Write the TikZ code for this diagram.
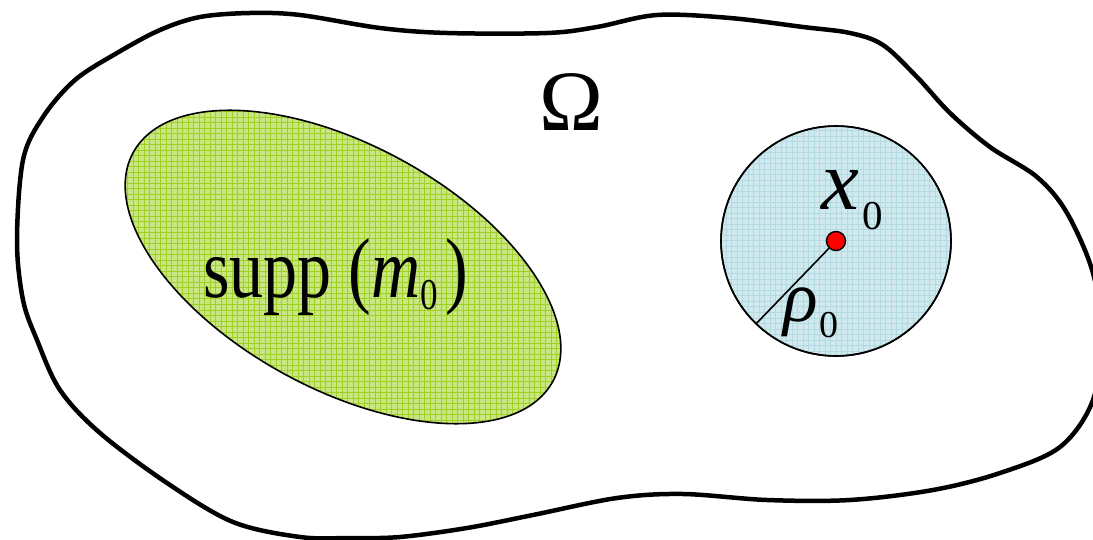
\documentclass[tikz,border=0pt]{standalone}
\usepackage{fontspec}
\setmainfont{Liberation Serif}
\definecolor{suppbase}{HTML}{C8E682}
\definecolor{suppline}{HTML}{A0D024}
\definecolor{ballbase}{HTML}{CFE9EE}
\definecolor{ballline}{HTML}{B2DAE0}
\definecolor{dotred}{HTML}{FF0000}
\tikzset{
  blob/.style={draw=black, line width=4.5pt, line join=round},
  region/.style={draw=black, line width=1.6pt},
  gridln/.style={line width=1pt},
  lbl/.style={inner sep=0pt, outer sep=0pt},
  radius line/.style={draw=black, line width=1.6pt},
}
\begin{document}
\begin{tikzpicture}[x=1pt,y=-1pt]
\useasboundingbox (0,0) rectangle (1093,540);
\begin{scope}
\clip (0,0) rectangle (1093,540);
% outer domain Omega
\path[blob] plot[smooth cycle, tension=0.55] coordinates {
 (75,80) (117,53) (160,30) (200,17) (250,13) (300,15) (380,28) (447,33)
 (547,33) (597,27) (657,15) (730,18) (803,27) (850,33) (883,45) (917,77)
 (950,113) (990,147) (1037,177) (1067,213) (1093,273) (1101,335) (1093,400)
 (1060,447) (1000,473) (933,490) (850,500) (767,500) (683,494) (617,498)
 (533,515) (467,528) (400,537) (350,538) (300,537) (233,522) (167,483)
 (100,433) (60,390) (37,340) (23,300) (17,241) (23,160) (43,117)};
\end{scope}
% support ellipse with grid texture
\begin{scope}
\clip[rotate around={-28.6:(343,267)}] (343,267) ellipse [x radius=239, y radius=122];
\fill[suppbase] (100,90) rectangle (600,450);
\foreach \i in {0,...,92} {
  \draw[suppline, gridln] (100+\i*5.5,90) -- (100+\i*5.5,450);
}
\foreach \j in {0,...,66} {
  \draw[suppline, gridln] (100,90+\j*5.5) -- (600,90+\j*5.5);
}
\end{scope}
\draw[region, rotate around={-28.6:(343,267)}] (343,267) ellipse [x radius=239, y radius=122];
% ball
\node[circle, region, minimum size=230pt, inner sep=0pt, fill=ballbase,
  path picture={
    \foreach \i in {-22,...,22} {
      \draw[ballline, gridln] ([xshift=\i*5.5pt]path picture bounding box.north) -- ([xshift=\i*5.5pt]path picture bounding box.south);
      \draw[ballline, gridln] ([yshift=\i*5.5pt]path picture bounding box.west) -- ([yshift=\i*5.5pt]path picture bounding box.east);
    }
  }] (ball) at (836,241) {};
\draw[region] (ball.center) circle [radius=115];
\node[circle, draw=black, line width=1.4pt, fill=dotred, minimum size=19pt, inner sep=0pt] (x0dot) at (836,241) {};
\draw[radius line] (x0dot) -- (ball.226);
% labels
\node[lbl, anchor=base, font=\fontsize{86}{86}\selectfont] (omega) at (571,131) {Ω};
\node[lbl, anchor=base west] (supp) at (203,298)
  {\scalebox{0.8}[1]{\fontsize{85}{85}\selectfont supp (\textit{m}\raisebox{-12pt}{\fontsize{44}{44}\selectfont 0}\hspace{10pt})}};
\node[lbl, anchor=base west] (x0) at (821,210)
  {{\fontsize{85}{85}\selectfont\itshape x}\hspace{4pt}\raisebox{-20pt}{\fontsize{41}{41}\selectfont 0}};
\node[lbl, anchor=base west] (rho0) at (783,322)
  {{\fontsize{72}{72}\selectfont\itshape ρ}\hspace{2pt}\raisebox{-16pt}{\fontsize{38}{38}\selectfont 0}};
\end{tikzpicture}
\end{document}
